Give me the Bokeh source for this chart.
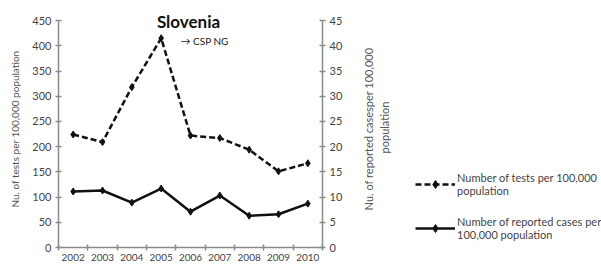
import math
from bokeh.plotting import figure
from bokeh.models import Range1d, LinearAxis, FixedTicker, Legend, LegendItem, Label
from bokeh.layouts import row
from bokeh.embed import file_html
from bokeh.resources import INLINE

years = [2002, 2003, 2004, 2005, 2006, 2007, 2008, 2009, 2010]
tests = [224, 209, 318, 415, 222, 217, 194, 151, 167]
cases = [11.1, 11.3, 8.9, 11.7, 7.1, 10.3, 6.3, 6.6, 8.7]
left_ticks = [0, 50, 100, 150, 200, 250, 300, 350, 400, 450]
right_ticks = [0, 5, 10, 15, 20, 25, 30, 35, 40, 45]
label_tests = "Number of tests per 100,000\npopulation"
label_cases = "Number of reported cases per\n100,000 population"
right_title = "Nu.  of reported casesper 100,000\npopulation"

FONT = "Lato"
AX = "#8a8a8a"
TXT = "#444444"
LINE = "#111111"

p = figure(width=345, height=266, output_backend="svg", toolbar_location=None,
           x_range=Range1d(years[0] - 0.5, years[-1] + 0.5),
           y_range=Range1d(left_ticks[0], 470),
           min_border_left=58, min_border_top=10, min_border_right=22, min_border_bottom=19)
p.extra_y_ranges = {"cases": Range1d(right_ticks[0], 47)}
p.outline_line_color = None
p.xgrid.visible = False
p.ygrid.visible = False

bounds = [y - 0.5 for y in years] + [years[-1] + 0.5]
p.xaxis.ticker = FixedTicker(ticks=years, minor_ticks=bounds)
p.yaxis.ticker = FixedTicker(ticks=left_ticks)
p.yaxis.bounds = (left_ticks[0], left_ticks[-1])

ra = LinearAxis(y_range_name="cases", ticker=FixedTicker(ticks=right_ticks),
                bounds=(right_ticks[0], right_ticks[-1]))
p.add_layout(ra, "right")
p.yaxis[0].axis_label = "Nu. of tests per 100,000 population"

for ax in [p.xaxis[0], p.yaxis[0], ra]:
    ax.axis_line_color = AX
    ax.axis_line_width = 1.5
    ax.major_tick_line_color = AX
    ax.minor_tick_line_color = AX
    ax.major_tick_line_width = 1.5
    ax.minor_tick_line_width = 1.5
    ax.major_label_text_font = FONT
    ax.major_label_text_font_size = "11px"
    ax.major_label_text_color = TXT
    ax.axis_label_text_font = FONT
    ax.axis_label_text_font_size = "10px"
    ax.axis_label_text_font_style = "normal"
    ax.axis_label_text_color = "#555555"
for ax in [p.yaxis[0], ra]:
    ax.major_tick_in = 3
    ax.major_tick_out = 3
    ax.minor_tick_in = 0
    ax.minor_tick_out = 0
    ax.major_label_standoff = 4
p.xaxis[0].major_tick_in = 0
p.xaxis[0].major_tick_out = 0
p.xaxis[0].minor_tick_in = 3
p.xaxis[0].minor_tick_out = 3
p.xaxis[0].major_label_standoff = 3
p.xaxis[0].major_label_text_font_size = "10px"
p.yaxis[0].axis_label_standoff = 8

l1 = p.line(years, tests, line_color=LINE, line_width=2.5, line_dash="6 3")
m1 = p.scatter(years, tests, marker="diamond", size=7, color=LINE)
l2 = p.line(years, cases, line_color=LINE, line_width=2.5, y_range_name="cases")
m2 = p.scatter(years, cases, marker="diamond", size=7, color=LINE, y_range_name="cases")

title = Label(x=130, y=226, x_units="screen", y_units="screen", text="Slovenia",
              text_font=FONT, text_font_size="17px", text_font_style="bold",
              text_color="#111111", text_align="center", text_baseline="middle")
p.add_layout(title)
note = Label(x=122, y=207, x_units="screen", y_units="screen", text="\u2192 CSP NG",
             text_font=FONT, text_font_size="10px", text_color="#222222",
             text_align="left", text_baseline="middle")
p.add_layout(note)

# side panel: right axis title + legend (series drawn outside its visible range)
q = figure(width=256, height=266, output_backend="svg", toolbar_location=None,
           min_border=0, x_range=Range1d(0, 1), y_range=Range1d(0, 1))
q.outline_line_color = None
q.axis.visible = False
q.grid.visible = False

rt = Label(x=31, y=120, x_units="screen", y_units="screen", text=right_title,
           angle=math.pi / 2, text_font=FONT, text_font_size="11px",
           text_color="#555555", text_align="center", text_baseline="middle")
q.add_layout(rt)

g1 = q.line(years, tests, line_color=LINE, line_width=2.5, line_dash="6 3")
s1 = q.scatter(years, tests, marker="diamond", size=7, color=LINE)
g2 = q.line(years, cases, line_color=LINE, line_width=2.5)
s2 = q.scatter(years, cases, marker="diamond", size=7, color=LINE)

legend = Legend(items=[
    LegendItem(label=label_tests, renderers=[g1, s1]),
    LegendItem(label=label_cases, renderers=[g2, s2]),
], location=(70, 6), orientation="vertical")
legend.label_text_font = FONT
legend.label_text_font_size = "11px"
legend.label_text_color = TXT
legend.glyph_width = 40
legend.label_standoff = 2
legend.spacing = 18
legend.padding = 0
legend.margin = 0
legend.border_line_color = None
legend.background_fill_alpha = 0
legend.label_height = 14
q.add_layout(legend, "center")

layout = row(p, q)
open("out.html", "w").write(file_html(layout, INLINE))
